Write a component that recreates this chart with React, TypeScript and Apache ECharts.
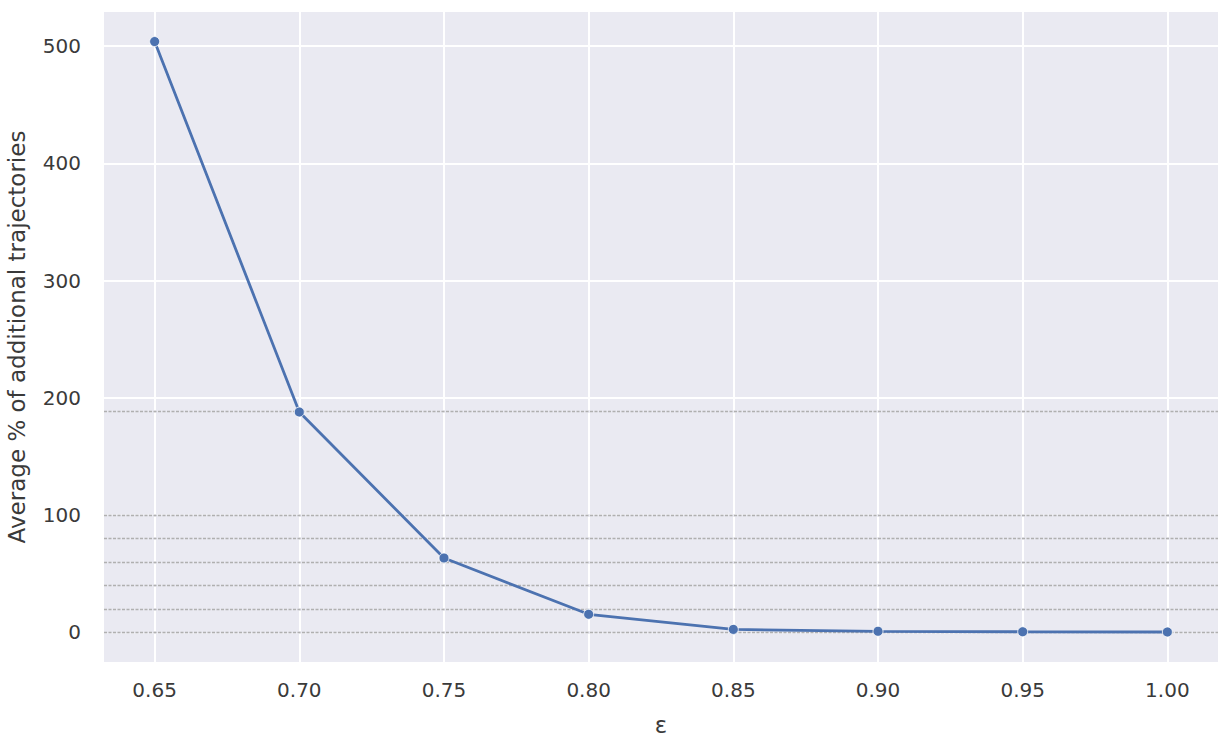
import React, { useEffect, useRef } from "react";
import * as echarts from "echarts";

const epsilonValues = [0.65, 0.7, 0.75, 0.8, 0.85, 0.9, 0.95, 1.0];
const avgAdditional = [504, 188, 63.5, 15.5, 2.6, 1.0, 0.6, 0.4];
const xTicks = [0.65, 0.7, 0.75, 0.8, 0.85, 0.9, 0.95, 1.0];
const yTicks = [0, 100, 200, 300, 400, 500];
const referenceLevels = [0, 20, 40, 60, 80, 100, 189];

const X_MIN = 0.6325;
const X_MAX = 1.0175;
const Y_MIN = -25.2;
const Y_MAX = 529.2;

const FONT = "DejaVu Sans";
const TEXT = "#3a3a3a";

export default function App() {
  const ref = useRef<HTMLDivElement>(null);

  useEffect(() => {
    if (!ref.current) return;
    const chart = echarts.init(ref.current, undefined, { renderer: "svg" });
    const gridMarks = [
      ...xTicks.map((v) => ({ xAxis: v })),
      ...yTicks.map((v) => ({ yAxis: v })),
    ];
    chart.setOption({
      animation: false,
      backgroundColor: "#ffffff",
      grid: {
        left: 104,
        top: 12,
        right: 14,
        bottom: 74,
        containLabel: false,
        outerBoundsMode: "none",
        show: true,
        backgroundColor: "#EAEAF2",
        borderWidth: 0,
      },
      xAxis: {
        type: "value",
        min: X_MIN,
        max: X_MAX,
        name: "ε",
        nameLocation: "middle",
        nameGap: 51,
        nameTextStyle: { fontFamily: FONT, fontSize: 23, color: TEXT },
        axisLine: { show: false },
        axisTick: { show: false, customValues: xTicks },
        splitLine: { show: false },
        axisLabel: {
          customValues: xTicks,
          formatter: (v: number) => v.toFixed(2),
          fontFamily: FONT,
          fontSize: 20,
          color: TEXT,
          margin: 18,
        },
      },
      yAxis: {
        type: "value",
        min: Y_MIN,
        max: Y_MAX,
        name: "Average % of additional trajectories",
        nameLocation: "middle",
        nameGap: 76,
        nameTextStyle: { fontFamily: FONT, fontSize: 23, color: TEXT },
        axisLine: { show: false },
        axisTick: { show: false, customValues: yTicks },
        splitLine: { show: false },
        axisLabel: {
          customValues: yTicks,
          formatter: (v: number) => String(Math.round(v)),
          fontFamily: FONT,
          fontSize: 20,
          color: TEXT,
          margin: 23,
        },
      },
      series: [
        {
          type: "line",
          data: [],
          silent: true,
          z: 1,
          markLine: {
            silent: true,
            z: 1,
            symbol: ["none", "none"],
            label: { show: false },
            lineStyle: { color: "#ffffff", width: 2, type: "solid" },
            data: gridMarks,
          },
        },
        {
          type: "line",
          data: [],
          silent: true,
          z: 2,
          markLine: {
            silent: true,
            z: 2,
            symbol: ["none", "none"],
            label: { show: false },
            lineStyle: { color: "#EAEAF2", width: 2.5, type: "solid" },
            data: referenceLevels.map((v) => ({ yAxis: v })),
          },
        },
        {
          type: "line",
          data: [],
          silent: true,
          z: 3,
          markLine: {
            silent: true,
            z: 3,
            symbol: ["none", "none"],
            label: { show: false },
            lineStyle: { color: "#b0b0b0", width: 1.3, type: [3, 1.5] },
            data: referenceLevels.map((v) => ({ yAxis: v })),
          },
        },
        {
          type: "line",
          z: 10,
          data: epsilonValues.map((x, i) => [x, avgAdditional[i]]),
          lineStyle: { color: "#4C72B0", width: 2.8 },
          itemStyle: { color: "#4C72B0", borderColor: "#ffffff", borderWidth: 0.8 },
          symbol: "circle",
          symbolSize: 10,
          showSymbol: true,
        },
      ],
    });
    return () => chart.dispose();
  }, []);

  return (
    <div
      ref={ref}
      style={{ position: "fixed", left: 0, top: 0, width: 1232, height: 736 }}
    />
  );
}
